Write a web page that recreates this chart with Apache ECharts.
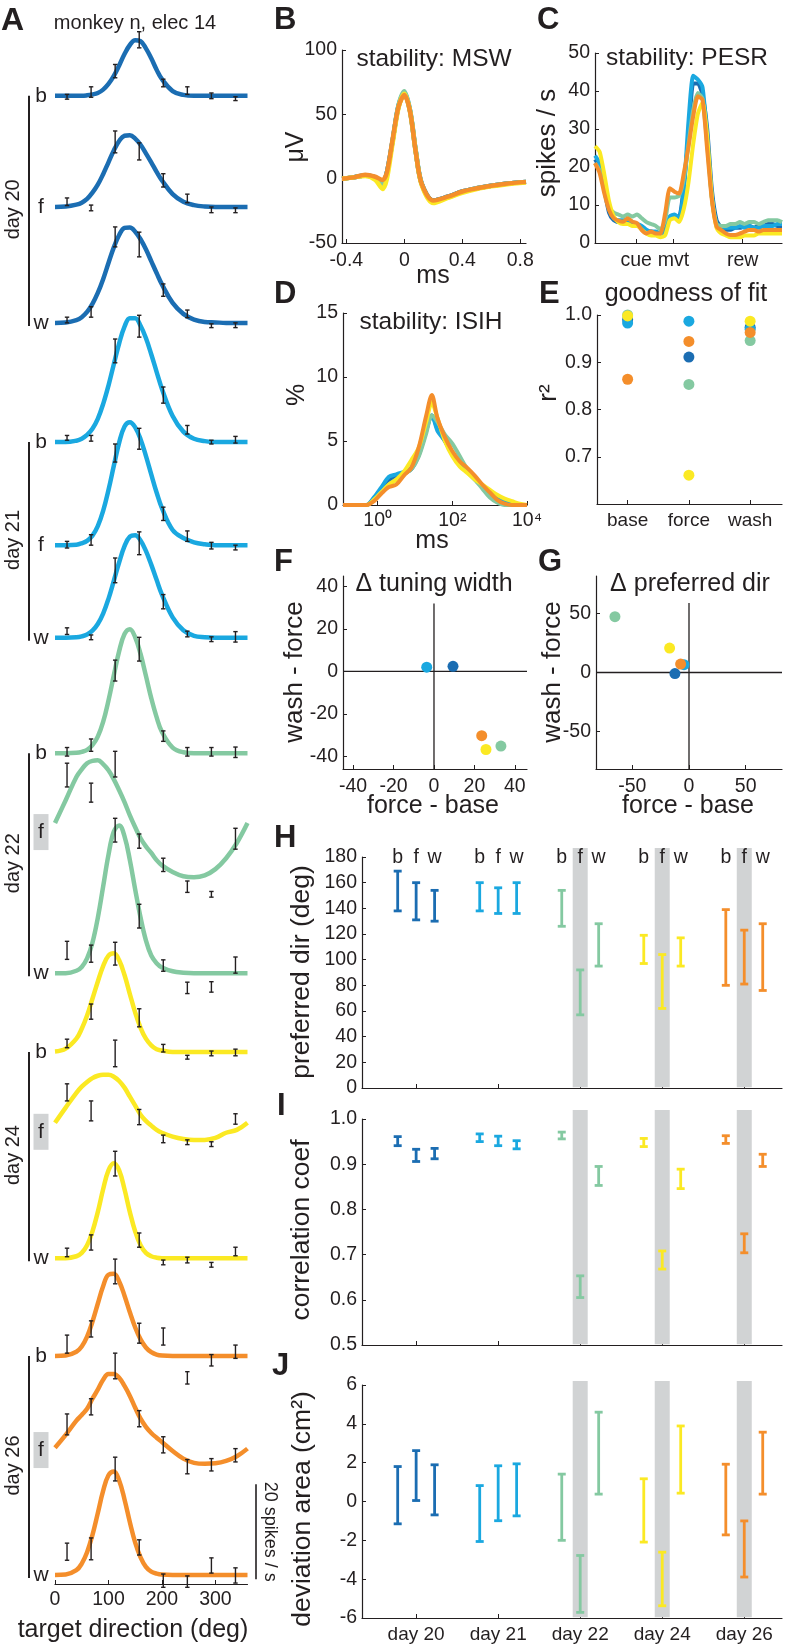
<!DOCTYPE html>
<html><head><meta charset="utf-8">
<script src="https://cdn.jsdelivr.net/npm/echarts@6.0.0/dist/echarts.min.js"></script>
<style>html,body{margin:0;padding:0;background:#fff}#c{width:809px;height:1647px}</style>
</head><body><div id="c"></div>
<script>
// ===================== DATA =====================
const DAY_NAMES = ['day 20','day 21','day 22','day 24','day 26'];
const COND_NAMES = ['b','f','w'];
const COND_AXIS = ['base','force','wash'];
const FORCE_DAYS = [2,3,4];              // days with the force field (shaded "f")

// --- A: tuning curves (fitted curves, spikes/s above each row's level)
const DIRS = [0,20,40,50,60,70,80,90,100,110,120,130,140,150,160,170,180,190,200,220,240,260,280,300,320,340,360];
const TARGETS = [22.5,67.5,112.5,157.5,202.5,247.5,292.5,337.5];
const fit20b = [0,0,0,0,0.1,0.3,0.6,1.3,2.5,4.2,6.4,8.8,10.7,11.7,11.5,10,7.9,5.5,3.5,1,0.2,0,0,0,0,0,0];
const fit20f = [0,0.1,0.5,0.9,1.7,3,4.7,6.9,9.4,11.9,13.9,15,15.1,14.4,13.1,11.3,9.4,7.4,5.6,2.7,1.1,0.4,0.1,0,0,0,0];
const fit20w = [0,0.1,0.6,1.2,2.3,4,6.3,9.2,12.6,15.9,18.5,20,20.1,19.2,17.6,15.5,13,10.5,8.1,4.2,1.9,0.7,0.2,0.1,0,0,0];
const fit21b = [0,0,0.3,0.7,1.5,2.8,4.9,8,11.9,16.4,20.8,24.3,26.1,26.1,24.5,21.9,18.5,14.8,11.2,5.5,2.2,0.7,0.2,0,0,0,0];
const fit21f = [0,0,0.1,0.4,0.9,2,4,7.2,11.6,16.7,21.6,25,25.9,24.8,22.3,18.8,14.9,11.1,7.8,3.2,1.5,0.6,0.2,0,0,0,0];
const fit21w = [0,0,0.1,0.3,0.7,1.5,2.9,5.1,8.2,12,15.9,19.3,21.3,21.6,20.5,18.3,15.4,12.2,9.1,4.3,1.6,0.4,0.1,0,0,0,0];
const fit22b = [0,0,0.1,0.3,0.7,1.7,3.5,6.6,11.1,16.4,21.5,25.1,26.1,24.4,20.9,16.3,11.6,7.6,4.5,1.2,0.2,0,0,0,0,0,0];
const fit22f = [11.4,16.2,21.1,22.7,24,24.5,24.6,23.8,22.5,20.6,18.3,15.8,13,10.5,8.2,6.5,5.1,3.6,2.5,1.1,0.2,0,0.4,1.7,4,7.2,11.4];
const fit22w = [0,0,0.5,1.3,3.1,6.4,11.6,18.2,24.9,29.8,31.1,28.8,23.8,17.6,11.7,6.9,3.7,2.1,1.2,0.4,0.1,0,0,0,0,0,0];
const fit24b = [0.1,0.7,2.8,4.9,7.7,11.2,14.8,18.1,20.3,20.8,19.3,16.2,12.2,8.3,5.1,2.8,1.4,0.6,0.3,0,0,0,0,0,0,0,0];
const fit24f = [4,7.2,10.3,11.6,12.6,13.4,13.9,14.1,14.1,13.7,12.8,11.4,9.5,7.6,5.7,4.4,3.4,2.5,1.9,1.1,0.6,0.4,0.4,0.8,1.9,2.5,4];
const fit24w = [0,0,0.4,1.1,2.7,5.6,9.7,14.5,18.5,20,18.5,14.5,9.7,5.6,2.7,1.1,0.4,0.1,0,0,0,0,0,0,0,0,0];
const fit26b = [0,0.1,0.9,2,4.1,7.2,11,14.7,17.1,17.3,15.7,12.7,9.2,6,3.5,1.8,0.8,0.3,0.1,0,0,0,0,0,0,0,0];
const fit26f = [3.4,6.1,9.1,10.3,11.6,13.7,15.6,17.7,18.9,18.9,18.1,16.4,14.3,11.8,9.5,7.8,6.5,5.5,4.6,2.7,1.1,0.2,0,0.1,0.6,1.6,3.2];
const fit26w = [0,0.1,1,2.4,4.8,8.4,13,17.7,21,21.8,19.9,15.9,11.1,6.8,3.7,1.7,0.7,0.3,0.1,0,0,0,0,0,0,0,0];

const mean20b = [-0.2,0.8,5.2,11.8,2.7,1.1,0,-0.6],   sem20b = [0.5,1.1,1.4,1.7,0.8,0.8,0.6,0.4];
const mean20f = [1.1,-0.2,13.7,11.7,5.6,1.8,-0.6,-0.7], sem20f = [0.8,0.6,2.3,1.8,1.4,0.9,0.6,0.5];
const mean20w = [0.6,2.3,18.1,16.5,6.9,1.9,-0.6,-0.5], sem20w = [0.6,1.1,2.1,2.6,1.3,0.8,0.4,0.5];
const mean21b = [0.9,0.8,19.2,24.4,9.9,2.6,0,0.5],     sem21b = [0.5,0.6,2.5,2.3,1.7,0.9,0.4,0.7];
const mean21f = [0.1,1.1,19.4,22.4,6.6,1.9,-0.1,-0.5], sem21f = [0.7,1.1,1.9,2.2,1.4,1.1,0.7,0.5];
const mean21w = [1.4,0.1,14.2,19.9,7.6,0.8,-0.3,0.2],  sem21w = [0.7,0.5,2.6,2.4,1.5,0.6,0.5,1.1];
const mean22b = [0.3,1.7,17.4,21.9,3.6,0.3,0.3,0.2],   sem22b = [0.9,1.3,2.2,2.5,1.1,0.9,0.9,1.1];
const mean22f = [21.5,17.8,23.8,7.6,2.6,-2,-3.6,8.1],  sem22f = [2.5,2,2.7,1.5,1.4,1.2,0.6,2.2];
const mean22w = [4.8,4.1,30.1,12,1.6,-3.1,-2.9,1.7],   sem22w = [1.9,1.8,2.5,2.5,1.2,1.2,1.1,1.7];
const mean24b = [1.8,8.5,20.7,7.2,0.8,-1.1,-0.3,-0.1], sem24b = [0.9,1.6,2.4,1.9,0.8,0.4,0.5,0.7];
const mean24f = [10.4,6.5,18.6,5.2,0.6,-0.1,-0.5,4.8], sem24f = [1.8,2.1,2.8,1.6,0.8,0.5,0.5,1.1];
const mean24w = [1.2,3.3,19.9,3.8,-0.9,-0.4,-1.4,1.4], sem24w = [0.9,1.6,2.6,1.5,0.5,0.6,0.5,0.9];
const mean26b = [2.5,5.7,17.8,4.8,4.1,-4.6,-0.9,0.9],  sem26b = [1.9,1.7,2.6,2.1,1.8,1.3,1.2,1.4];
const mean26f = [8.3,12,20.6,9.5,4,-0.6,-0.2,1.8],     sem26f = [2.2,1.7,2.7,1.7,1.7,1.5,1.3,1.4];
const mean26w = [4.9,5.5,22.3,5.8,-1.2,-1.4,2,-0.1],   sem26w = [1.8,2.3,2.5,1.6,1.4,1.2,1.6,1.6];

// --- B: mean spike waveform (uV)
const mswT = [-0.43,-0.35,-0.27,-0.2,-0.15,-0.12,-0.08,-0.04,0,0.04,0.08,0.12,0.2,0.3,0.4,0.5,0.6,0.7,0.84];
const msw20 = [0,1,2.5,1,-3,5,30,56,66,52,20,-4,-17,-14,-10,-7.5,-5.5,-4,-2.5];
const msw21 = [0,1,2.5,1,-3,5,30,57,67,53,21,-4,-17,-14,-10,-7.5,-5.5,-4,-2.5];
const msw22 = [0,1,2.5,0.5,-4,4,30,57,68,53,21,-4,-18,-14.5,-10.5,-7.5,-5.5,-4,-2.5];
const msw24 = [0,1,2,-1,-8,0,28,55,66,52,20,-5,-19,-15,-11,-8,-6,-4.5,-3];
const msw26 = [0,1,3,1.5,-1,5,31,56,65,52,20,-4,-17,-14,-10,-7.5,-5.5,-4,-2.5];

// --- C: peri-event spike rate (spikes/s) vs. trial time
const pesrT = [0,2.5,5,7.5,10,12.5,15,17.5,20,22.5,25,27.5,30,32.5,35,37.5,40,42.5,45,47.5,50,52.5,55,57.5,60,62.5,65,67.5,70,72.5,75,77.5,80,82.5,85,87.5,90,92.5,95,97.5,100];
const pesr20 = [22,20,14,8,6,5.5,5.5,5.5,5,5,4,3,3,2.5,2.5,3.5,6.5,7,7,15,28,42,42,39,30,14,6,4,3.5,3.5,4,4,4.5,4.5,4,4.5,4.5,5,5,4.5,4.5];
const pesr21 = [23,21,15,9,6.5,6,6,6,5.5,5,4.5,3.5,3,3,2.5,3,7,7.5,6.5,14,32,44,43,41,28,12,5,4,4,4,4,4.5,4,4.5,4,4,4.5,4.5,4.5,5,5];
const pesr22 = [21,19,14,9.5,8,7.5,7,7.5,7,7.5,6.5,5.5,5,4.5,3.5,6,12,12,12.5,17,26,35,39.5,38,26,12,5,4.5,4.5,5,5,5.5,5,5.5,5.5,5,5.5,6,6,6,5.5];
const pesr24 = [25.5,24,18,11,7,5.5,5,5,4.5,4.5,3.5,2.5,2,2,1.5,2,6,6.5,5.5,9,16,26,34,37,28,12,4,2.5,2,1.5,1.5,1.5,2,2,2,2.5,2.5,2.5,2.5,2.5,2.5];
const pesr26 = [21,18.4,13,8.7,6.5,5.9,5.6,6.5,5.6,5.2,3.4,2.5,3,2.5,2.5,7.8,14.4,13.5,13,18.4,25.4,33.3,38.6,37.7,24.5,11.3,4.3,3.4,2.5,2.1,2.1,2.5,3,3.4,3.4,3,3.4,3.4,3.4,3.4,3.4];
const PESR_EVENTS = [22,42,79], PESR_EVENT_NAMES = ['cue','mvt','rew'];

// --- D: inter-spike interval histogram (%), x = log10(ms)
const isiLogMs = [-0.93,-0.5,-0.3,-0.1,0.1,0.3,0.5,0.7,0.9,1.1,1.3,1.45,1.6,1.8,2.0,2.2,2.4,2.6,2.8,3.0,3.2,3.4,3.6,3.8,4.0];
const isi20 = [0,0,0,0.5,1.2,1.9,2.2,2.5,2.8,3.9,5.8,7,6,5,4,3.2,2.6,2,1.5,1,0.6,0.3,0.1,0,0];
const isi21 = [0,0,0,0.6,1.4,2.2,2.4,2.6,2.9,4,6,7,5.8,5,4,3.2,2.6,2,1.5,1,0.6,0.3,0.1,0,0];
const isi22 = [0,0,0,0.4,1,1.6,2,2.4,2.8,3.8,5.6,7,6.5,5.5,4.8,3.8,2.8,2,1.3,0.6,0.2,0,0,0,0];
const isi24 = [0,0,0,0.4,1,1.6,2,2.6,3.5,4.5,6.5,8,6.8,5,3.8,3,2.5,2,1.6,1.2,0.8,0.5,0.3,0.1,0];
const isi26 = [0,0,0,0.3,0.9,1.4,1.6,2.3,2.9,4.5,7,8.6,6.8,5.3,4.2,3.4,2.9,2.3,1.6,1,0.4,0.1,0,0,0];

// --- E: goodness of fit r^2 (base, force, wash)
const r2Day20 = [0.99,0.911,0.974];
const r2Day21 = [0.983,0.987,0.97];
const r2Day22 = [1.0,0.853,0.946];
const r2Day24 = [0.998,0.661,0.987];
const r2Day26 = [0.864,0.944,0.963];

// --- F: delta tuning width [force-base, wash-force];  G: delta preferred dir
const dWidth = [[9.4,2.4],[-3.6,2.0],[33.1,-35.2],[25.7,-36.8],[23.6,-30.3]];
const dPref  = [[-12.4,-0.9],[-4.4,6.6],[-65.3,47.4],[-17.1,20.8],[-7.4,7.2]];

// --- H, I, J: confidence intervals, order day20 b,f,w, day21 b,f,w, ...
const prefDirLo = [138,131,130, 138,136,136, 126,57,95, 97,62,95, 80,81,76];
const prefDirHi = [169,160,154, 160,156,160, 154,92,128, 119,104,117, 139,123,128];
const corrLo = [0.941,0.906,0.912, 0.950,0.941,0.934, 0.956,0.605,0.853, 0.939,0.668,0.846, 0.946,0.704,0.895];
const corrHi = [0.961,0.933,0.935, 0.967,0.962,0.952, 0.971,0.653,0.895, 0.957,0.708,0.889, 0.963,0.746,0.922];
const areaLo = [-1.15,0.05,-0.69, -2.06,-0.99,-0.74, -2.0,-5.71,0.38, -2.09,-5.37,0.43, -1.72,-3.89,0.38];
const areaHi = [1.8,2.62,1.89, 0.82,1.84,1.94, 1.41,-2.78,4.6, 1.17,-2.61,3.89, 1.92,-1.0,3.57];

// ===================== LAYOUT / STYLE =====================
const FONT = "'Liberation Sans', Arial, Helvetica, sans-serif";
const TXT = '#231f20';
const GRAY = '#d1d3d4';
const DAY_COLORS = ['#1b6db2','#1aa8e0','#84c9a1','#fbe923','#f48e2b'];
const COND_OFFSET = [-0.225, 0, 0.225];
// stacking level (spikes/s) of each row of panel A, and where its b/f/w label sits
const ROW_LEVEL = [313.3,289.9,265.5, 240.4,218.7,199.2, 174.9,148.8,128.6, 112.0,93.1,68.6, 48.0,25.3,1.9];
const ROW_LABEL_LEVEL = [313.3,289.9,265.5, 240.4,218.7,199.2, 174.9,158.3,128.6, 112.0,95.2,68.6, 48.0,28.2,1.9];

const FITS = [fit20b,fit20f,fit20w,fit21b,fit21f,fit21w,fit22b,fit22f,fit22w,fit24b,fit24f,fit24w,fit26b,fit26f,fit26w];
const MEANS = [mean20b,mean20f,mean20w,mean21b,mean21f,mean21w,mean22b,mean22f,mean22w,mean24b,mean24f,mean24w,mean26b,mean26f,mean26w];
const SEMS = [sem20b,sem20f,sem20w,sem21b,sem21f,sem21w,sem22b,sem22f,sem22w,sem24b,sem24f,sem24w,sem26b,sem26f,sem26w];
const MSW = [msw20,msw21,msw22,msw24,msw26];
const PESR = [pesr20,pesr21,pesr22,pesr24,pesr26];
const ISI = [isi20,isi21,isi22,isi24,isi26];
const R2 = [r2Day20,r2Day21,r2Day22,r2Day24,r2Day26];

function st(color, lw) { return {stroke: color, lineWidth: lw, fill: null}; }
function tx(text, size, extra) {
  return Object.assign({text, fontSize: size, fontFamily: FONT, fill: TXT,
    align: 'center', verticalAlign: 'middle', textAlign: 'center', textVerticalAlign: 'middle'}, extra || {});
}

function mkAxis(grid, min, max, ticks, fmt, lab) {
  return {
    type: 'value', gridIndex: grid, min, max,
    axisLine: {show: true, onZero: false, lineStyle: {color: TXT, width: 1.2}},
    axisTick: {show: true, inside: true, length: 4, customValues: ticks, lineStyle: {color: TXT, width: 1}},
    axisLabel: Object.assign({show: true, customValues: ticks, formatter: fmt, color: TXT,
      fontSize: 19.5, fontFamily: FONT, margin: 6}, lab || {}),
    splitLine: {show: false}
  };
}
const num = v => String(v);
const f1 = v => v.toFixed(1);

const grids = [
  {left: 55, top: 16.5, width: 192.5, height: 1567.5},   // A
  {left: 342, top: 50, width: 184, height: 193},         // B
  {left: 595, top: 53, width: 187, height: 190},         // C
  {left: 343, top: 313, width: 184, height: 192},        // D
  {left: 597, top: 315, width: 185, height: 189},        // E
  {left: 343, top: 576, width: 184, height: 193},        // F
  {left: 596, top: 576, width: 186, height: 193},        // G
  {left: 362, top: 857, width: 420, height: 231},        // H
  {left: 362, top: 1119, width: 420, height: 226},       // I
  {left: 362, top: 1385, width: 420, height: 233}        // J
];

const xAxes = [
  mkAxis(0, 0, 360, [0,100,200,300], num, {fontSize: 19.5}),
  mkAxis(1, -0.43, 0.84, [-0.4,0,0.4,0.8], num, {margin: 8}),
  mkAxis(2, 0, 100, PESR_EVENTS, v => PESR_EVENT_NAMES[PESR_EVENTS.indexOf(v)], {margin: 8}),
  mkAxis(3, -0.93, 4, [0,2,4], v => ({0:'10\u2070',2:'10\u00b2',4:'10\u2074'})[v], {margin: 6}),
  mkAxis(4, 0.5, 3.52, [1,2,3], v => COND_AXIS[v-1], {margin: 7, fontSize: 19}),
  mkAxis(5, -45, 46, [-40,-20,0,20,40], num, {margin: 8}),
  mkAxis(6, -82, 82, [-50,0,50], num, {margin: 8}),
  mkAxis(7, -0.66, 4.46, [0,1,2,3,4], num, {show: false}),
  mkAxis(8, -0.66, 4.46, [0,1,2,3,4], num, {show: false}),
  mkAxis(9, -0.66, 4.46, [0,1,2,3,4], v => DAY_NAMES[v], {margin: 7, fontSize: 19})
];
const yAxes = [
  {type: 'value', gridIndex: 0, min: 0, max: 330, show: false},
  mkAxis(1, -50, 100, [-50,0,50,100], num, {margin: 5}),
  mkAxis(2, 0, 50, [0,10,20,30,40,50], num, {margin: 5}),
  mkAxis(3, 0, 15, [0,5,10,15], num, {margin: 5}),
  mkAxis(4, 0.6, 1.0, [0.6,0.7,0.8,0.9,1.0], f1, {margin: 5}),
  mkAxis(5, -46, 45, [-40,-20,0,20,40], num, {margin: 5}),
  mkAxis(6, -82, 82, [-50,0,50], num, {margin: 5}),
  mkAxis(7, 0, 180, [0,20,40,60,80,100,120,140,160,180], num, {margin: 5}),
  mkAxis(8, 0.5, 1.0, [0.5,0.6,0.7,0.8,0.9,1.0], f1, {margin: 5}),
  mkAxis(9, -6, 6, [-6,-4,-2,0,2,4,6], num, {margin: 5})
];
yAxes[4].axisLabel.customValues = [0.7,0.8,0.9,1.0];

function errBarRender(colorOf, lw, halfCap) {
  return function (params, api) {
    const x = api.value(0), lo = api.value(1), hi = api.value(2);
    const a = api.coord([x, lo]), b = api.coord([x, hi]);
    const c = colorOf(api);
    return {type: 'group', children: [
      {type: 'line', shape: {x1: a[0], y1: a[1], x2: b[0], y2: b[1]}, style: st(c, lw)},
      {type: 'line', shape: {x1: a[0]-halfCap, y1: a[1], x2: a[0]+halfCap, y2: a[1]}, style: st(c, lw)},
      {type: 'line', shape: {x1: b[0]-halfCap, y1: b[1], x2: b[0]+halfCap, y2: b[1]}, style: st(c, lw)}
    ]};
  };
}
function custom(gi, data, renderItem, z) {
  return {type: 'custom', xAxisIndex: gi, yAxisIndex: gi, data, renderItem, z: z || 3,
    silent: true, clip: false, animation: false};
}
function line(gi, data, color, w, smooth, z) {
  return {type: 'line', xAxisIndex: gi, yAxisIndex: gi, data, smooth: smooth, symbol: 'none',
    lineStyle: {color, width: w}, itemStyle: {color}, silent: true, z: z || 2, animation: false};
}
function scatter(gi, data, color, z) {
  return {type: 'scatter', xAxisIndex: gi, yAxisIndex: gi, data, symbolSize: 11,
    itemStyle: {color, opacity: 1}, silent: true, z: z || 3, animation: false};
}

const series = [];

// ---- A
FITS.forEach((fit, k) => {
  const day = Math.floor(k / 3);
  series.push(line(0, DIRS.map((d, i) => [d, ROW_LEVEL[k] + fit[i]]), DAY_COLORS[day], 4.5, 0.4, 2));
});
FITS.forEach((fit, k) => {
  const m = MEANS[k], s = SEMS[k];
  series.push(custom(0, TARGETS.map((t, i) => [t, ROW_LEVEL[k] + m[i] - s[i], ROW_LEVEL[k] + m[i] + s[i]]),
    errBarRender(() => TXT, 1.4, 2.2), 4));
});
// row labels b/f/w (+ gray box for force-field sessions)
series.push(custom(0, ROW_LABEL_LEVEL.map((lv, k) => [0, lv, k]), function (params, api) {
  const k = api.value(2), p = api.coord([0, api.value(1)]);
  const x = p[0] - 14, y = p[1];
  const ch = [];
  const shaded = (k % 3 === 1) && FORCE_DAYS.indexOf(Math.floor(k / 3)) >= 0;
  if (shaded) ch.push({type: 'rect', shape: {x: x - 7.5, y: y - 18, width: 15, height: 36}, style: {fill: GRAY}});
  ch.push({type: 'text', x: x, y: y, style: tx(COND_NAMES[k % 3], 21)});
  return {type: 'group', children: ch};
}, 5));
// day brackets
series.push(custom(0, DAY_NAMES.map((n, d) => [0, ROW_LABEL_LEVEL[3*d], ROW_LABEL_LEVEL[3*d+2], d]), function (params, api) {
  const a = api.coord([0, api.value(1)]), b = api.coord([0, api.value(2)]);
  const d = api.value(3);
  return {type: 'group', children: [
    {type: 'line', shape: {x1: a[0]-26, y1: a[1], x2: a[0]-26, y2: b[1]+3}, style: st(TXT, 2)},
    {type: 'text', x: a[0]-42, y: (a[1]+b[1])/2, rotation: Math.PI/2, style: tx(DAY_NAMES[d], 20)}
  ]};
}, 5));
// scale bar: 20 spikes / s
series.push(custom(0, [[360, 1, 21]], function (params, api) {
  const a = api.coord([api.value(0), api.value(1)]), b = api.coord([api.value(0), api.value(2)]);
  return {type: 'group', children: [
    {type: 'line', shape: {x1: a[0]+8.5, y1: a[1], x2: b[0]+8.5, y2: b[1]}, style: st(TXT, 1.6)},
    {type: 'text', x: a[0]+22.5, y: (a[1]+b[1])/2, rotation: -Math.PI/2, style: tx('20 spikes / s', 18)}
  ]};
}, 5));

// ---- B, C, D
MSW.forEach((w, d) => series.push(line(1, mswT.map((t, i) => [t, w[i]]), DAY_COLORS[d], 4.5, 0.3)));
PESR.forEach((r, d) => series.push(line(2, pesrT.map((t, i) => [t, r[i]]), DAY_COLORS[d], 4, 0.2)));
ISI.forEach((h, d) => series.push(line(3, isiLogMs.map((t, i) => [t, h[i]]), DAY_COLORS[d], 4, 0.3)));

// ---- E
R2.forEach((r, d) => series.push(scatter(4, r.map((v, c) => [c + 1, v]), DAY_COLORS[d])));

// ---- F, G
series.push(line(5, [[0,-46],[0,32]], TXT, 1.3, false, 1));
series.push(line(5, [[-45,0],[46,0]], TXT, 1.3, false, 1));
series.push(line(6, [[0,-82],[0,59]], TXT, 1.3, false, 1));
series.push(line(6, [[-82,0],[82,0]], TXT, 1.3, false, 1));
dWidth.forEach((p, d) => series.push(scatter(5, [p], DAY_COLORS[d])));
dPref.forEach((p, d) => series.push(scatter(6, [p], DAY_COLORS[d])));

// ---- H, I, J
function bandRender(extraTop) {
  return function (params, api) {
    const cs = params.coordSys;
    const cx = api.coord([api.value(0), api.value(1)])[0];
    return {type: 'rect', shape: {x: cx - 7.5, y: cs.y - extraTop, width: 15, height: cs.height + extraTop - 0.8},
      style: {fill: GRAY}};
  };
}
[[7, 9, 180], [8, 9, 1.0], [9, 4, 6]].forEach(([gi, extra, yv]) => {
  series.push(custom(gi, FORCE_DAYS.map(d => [d + COND_OFFSET[1], yv]), bandRender(extra), 1));
});
[[7, prefDirLo, prefDirHi], [8, corrLo, corrHi], [9, areaLo, areaHi]].forEach(([gi, lo, hi]) => {
  const data = lo.map((l, j) => [Math.floor(j/3) + COND_OFFSET[j % 3], l, hi[j], Math.floor(j/3)]);
  series.push(custom(gi, data, errBarRender(api => DAY_COLORS[api.value(3)], 2.8, 4), 3));
});
// b f w letters above panel H
const bfw = [];
DAY_NAMES.forEach((n, d) => COND_NAMES.forEach((c, j) => bfw.push([d + COND_OFFSET[j], 180, j])));
series.push(custom(7, bfw, function (params, api) {
  const p = api.coord([api.value(0), api.value(1)]);
  return {type: 'text', x: p[0], y: p[1] + 1, style: tx(COND_NAMES[api.value(2)], 19.5)};
}, 5));

// ---- texts
function T(text, x, y, size, opt) {
  opt = opt || {};
  return {type: 'text', x, y, rotation: opt.rot || 0, silent: true, z: 100,
    style: tx(text, size, opt.bold ? {fontWeight: 'bold', align: 'left', textAlign: 'left'} : {})};
}
const R = {rot: Math.PI/2}, BOLD = {bold: true};
const texts = [
  T('A', 1, 21, 32, BOLD),
  T('monkey n, elec 14', 135, 23, 20),
  T('target direction (deg)', 133, 1630, 25),
  T('B', 274, 20, 31, BOLD), T('C', 537, 20, 31, BOLD),
  T('stability: MSW', 434, 59, 24.5), T('stability: PESR', 687, 58, 24.5),
  T('\u03bcV', 296, 147, 25, R), T('ms', 433, 276, 25),
  T('spikes / s', 548, 143, 26, R),
  T('D', 274, 294, 31, BOLD), T('E', 539, 294, 31, BOLD),
  T('stability: ISIH', 431, 322, 24.5), T('goodness of fit', 686, 294, 25),
  T('%', 297, 395, 25, R), T('r\u00b2', 549, 393, 26, R), T('ms', 432, 541, 25),
  T('F', 274, 562, 31, BOLD), T('G', 538, 562, 31, BOLD),
  T('\u0394 tuning width', 434, 584, 25), T('\u0394 preferred dir', 690, 584, 25),
  T('wash - force', 295, 672, 26, R), T('wash - force', 553, 672, 26, R),
  T('force - base', 433, 806, 25), T('force - base', 688, 806, 25),
  T('H', 274, 838, 31, BOLD), T('preferred dir (deg)', 302, 972, 26.5, R),
  T('I', 277, 1106, 31, BOLD), T('correlation coef', 302, 1230, 26.5, R),
  T('J', 272, 1366, 31, BOLD), T('deviation area (cm\u00b2)', 303, 1509, 26.5, R)
];

const chart = echarts.init(document.getElementById('c'), null, {renderer: 'canvas'});
chart.setOption({
  animation: false,
  backgroundColor: '#ffffff',
  textStyle: {fontFamily: FONT, color: TXT},
  grid: grids, xAxis: xAxes, yAxis: yAxes, series: series,
  graphic: {elements: texts}
});
</script></body></html>
